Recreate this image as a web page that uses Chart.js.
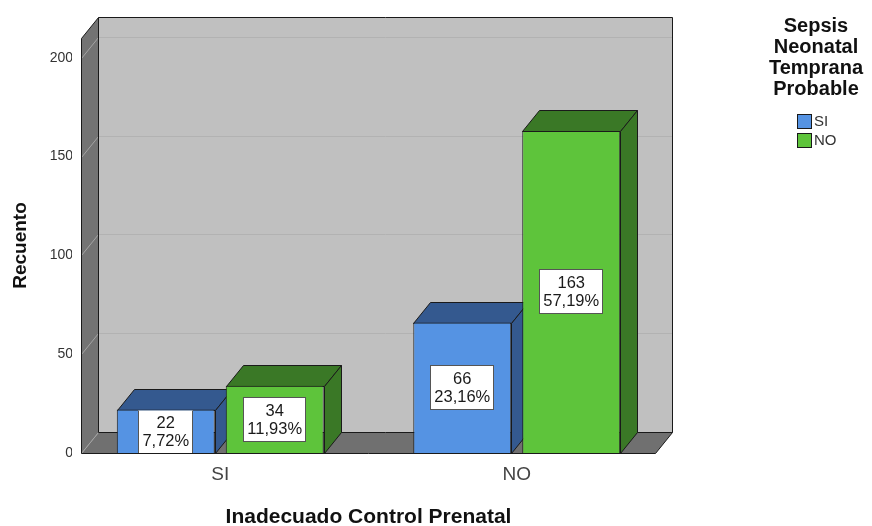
<!DOCTYPE html>
<html>
<head>
<meta charset="utf-8">
<script src="https://cdn.jsdelivr.net/npm/chart.js@4.4.1/dist/chart.umd.min.js"></script>
<style>
  html, body { margin: 0; background: #fff; }
  #wrap { width: 872px; height: 526px; }
</style>
</head>
<body>
<div id="wrap"><canvas id="chart"></canvas></div>
<script>
// data
const categories = ['SI', 'NO'];              // Inadecuado Control Prenatal
const seriesNames = ['SI', 'NO'];             // Sepsis Neonatal Temprana Probable
const sepsisSI = [22, 66];
const sepsisNO = [34, 163];
const yTickValues = [0, 50, 100, 150, 200];
const legendTitle = ['Sepsis', 'Neonatal', 'Temprana', 'Probable'];

const total = [...sepsisSI, ...sepsisNO].reduce((a, b) => a + b, 0);

const frontColors = ['#5593e3', '#5ec43b'];
const depthColors = ['#34598f', '#3a7826'];
const FONT = "'Liberation Sans', Arial, sans-serif";

// 3d look
const DX = 17, DY = -21;
const INSET_L = 9, INSET_R = 10;

function poly(ctx, pts, fill, stroke) {
  ctx.beginPath();
  ctx.moveTo(pts[0][0], pts[0][1]);
  pts.slice(1).forEach(p => ctx.lineTo(p[0], p[1]));
  ctx.closePath();
  if (fill) { ctx.fillStyle = fill; ctx.fill(); }
  if (stroke) { ctx.strokeStyle = stroke; ctx.lineWidth = 1; ctx.stroke(); }
}
const px = v => Math.round(v) + 0.5;

const box3d = {
  id: 'box3d',
  beforeDatasetsDraw(chart) {
    const { ctx, chartArea: a, scales: { y } } = chart;
    const L = px(a.left + INSET_L), R = px(a.right - INSET_R);
    const T = px(y.getPixelForValue(y.max)), B = px(y.getPixelForValue(0));
    ctx.save();

    // back wall, left wall, floor
    poly(ctx, [[L + DX, T + DY], [R + DX, T + DY], [R + DX, B + DY], [L + DX, B + DY]], '#c0c0c0');
    poly(ctx, [[L, T], [L + DX, T + DY], [L + DX, B + DY], [L, B]], '#737373');
    poly(ctx, [[L, B], [R, B], [R + DX, B + DY], [L + DX, B + DY]], '#707070');

    ctx.lineWidth = 1;
    yTickValues.forEach(v => {
      const yf = px(y.getPixelForValue(v));
      if (v > 0) {
        ctx.strokeStyle = '#b2b2b2';
        ctx.beginPath();
        ctx.moveTo(L + DX, yf + DY);
        ctx.lineTo(R + DX, yf + DY);
        ctx.stroke();
      }
      ctx.strokeStyle = '#a4a4a4';
      ctx.beginPath();
      ctx.moveTo(L, yf);
      ctx.lineTo(L + DX, yf + DY);
      ctx.stroke();
    });

    // outlines
    ctx.strokeStyle = '#1a1a1a';
    ctx.beginPath();
    ctx.moveTo(L, B); ctx.lineTo(L, T); ctx.lineTo(L + DX, T + DY);
    ctx.lineTo(R + DX, T + DY); ctx.lineTo(R + DX, B + DY); ctx.lineTo(R, B); ctx.lineTo(L, B);
    ctx.moveTo(L + DX, T + DY); ctx.lineTo(L + DX, B + DY); ctx.lineTo(R + DX, B + DY);
    ctx.stroke();

    // bar depth faces
    chart.data.datasets.forEach((ds, di) => {
      chart.getDatasetMeta(di).data.forEach(bar => {
        const l = px(bar.x - bar.width / 2), r = px(bar.x + bar.width / 2);
        const t = px(bar.y), b = px(bar.base);
        poly(ctx, [[l, t], [l + DX, t + DY], [r + DX, t + DY], [r, t]], depthColors[di], '#1a1a1a');
        poly(ctx, [[r, t], [r + DX, t + DY], [r + DX, b + DY], [r, b]], depthColors[di], '#1a1a1a');
      });
    });
    ctx.restore();
  },
  afterDatasetsDraw(chart) {
    const { ctx } = chart;
    ctx.save();
    ctx.font = '16.5px ' + FONT;
    ctx.textAlign = 'center';
    ctx.textBaseline = 'middle';
    chart.data.datasets.forEach((ds, di) => {
      chart.getDatasetMeta(di).data.forEach((bar, i) => {
        const v = ds.data[i];
        const lines = [String(v), (v / total * 100).toFixed(2).replace('.', ',') + '%'];
        const w = Math.max(...lines.map(s => ctx.measureText(s).width)) + 8;
        const h = 45;
        const cx = bar.x, cy = (bar.y + bar.base) / 2;
        const l = bar.x - bar.width / 2, r = bar.x + bar.width / 2;
        ctx.save();
        ctx.beginPath();
        ctx.rect(l + 1, bar.y + 1, r - l - 2, bar.base - bar.y - 1);
        ctx.clip();
        ctx.fillStyle = '#ffffff';
        ctx.fillRect(Math.round(cx - w / 2), Math.round(cy - h / 2), Math.round(w), h);
        ctx.strokeStyle = '#555';
        ctx.lineWidth = 1;
        ctx.strokeRect(px(cx - w / 2), px(cy - h / 2), Math.round(w) - 1, h - 1);
        ctx.fillStyle = '#1a1a1a';
        ctx.fillText(lines[0], cx, cy - 8);
        ctx.fillText(lines[1], cx, cy + 10);
        ctx.restore();
      });
    });
    ctx.restore();
  },
  afterDraw(chart) {
    const { ctx } = chart;
    ctx.save();
    ctx.fillStyle = '#111';
    ctx.font = 'bold 20px ' + FONT;
    ctx.textAlign = 'center';
    ctx.textBaseline = 'middle';
    legendTitle.forEach((s, i) => ctx.fillText(s, 816, 26 + i * 21.3));
    ctx.font = '15px ' + FONT;
    ctx.textAlign = 'left';
    chart.data.datasets.forEach((ds, i) => {
      const cy = 121 + i * 19;
      ctx.fillStyle = ds.backgroundColor;
      ctx.fillRect(797, cy - 7, 15, 15);
      ctx.strokeStyle = '#1a1a1a';
      ctx.strokeRect(797.5, cy - 6.5, 14, 14);
      ctx.fillStyle = '#333';
      ctx.fillText(ds.label, 814, cy + 1);
    });
    ctx.restore();
  }
};

new Chart(document.getElementById('chart').getContext('2d'), {
  type: 'bar',
  data: {
    labels: categories,
    datasets: [
      { label: seriesNames[0], data: sepsisSI, backgroundColor: frontColors[0] },
      { label: seriesNames[1], data: sepsisNO, backgroundColor: frontColors[1] }
    ]
  },
  options: {
    responsive: true,
    maintainAspectRatio: false,
    animation: false,
    layout: { padding: { top: 38, right: 207, left: 0, bottom: 0 } },
    datasets: {
      bar: {
        borderColor: '#1a1a1a',
        borderWidth: 1,
        categoryPercentage: 0.735,
        barPercentage: 0.899
      }
    },
    plugins: {
      legend: { display: false },
      tooltip: { enabled: false }
    },
    scales: {
      x: {
        grid: { display: false, drawTicks: false },
        border: { display: false },
        afterFit: s => { s.height = 73; },
        ticks: { color: '#444', padding: 10, font: { family: FONT, size: 19 } },
        title: {
          display: true,
          text: 'Inadecuado Control Prenatal',
          color: '#111',
          padding: { top: 0, bottom: 0 },
          font: { family: FONT, size: 21, weight: 'bold', lineHeight: 0.85 }
        }
      },
      y: {
        min: 0,
        max: 210,
        grid: { display: false, drawTicks: false },
        border: { display: false },
        afterFit: s => { s.width = 72; },
        afterBuildTicks: s => { s.ticks = yTickValues.map(v => ({ value: v })); },
        ticks: { color: '#333', padding: -1, font: { family: FONT, size: 14 } },
        title: {
          display: true,
          text: 'Recuento',
          color: '#111',
          padding: { top: 9, bottom: 0 },
          font: { family: FONT, size: 19, weight: 'bold' }
        }
      }
    }
  },
  plugins: [box3d]
});
</script>
</body>
</html>
